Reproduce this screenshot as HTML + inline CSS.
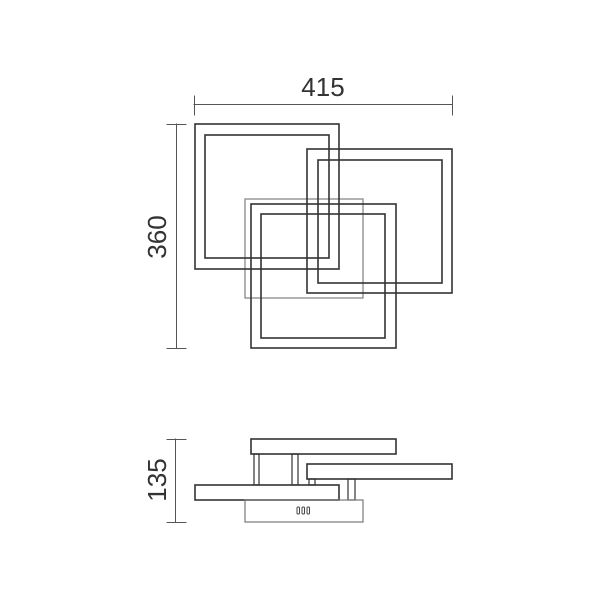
<!DOCTYPE html>
<html><head><style>body{margin:0;background:#fff}svg{display:block}</style></head><body>
<svg width="600" height="600" viewBox="0 0 600 600" xmlns="http://www.w3.org/2000/svg">
<g fill="none" stroke-linecap="square">
<!-- dimension lines -->
<g stroke="#555" stroke-width="1">
<line x1="194" y1="104.5" x2="452" y2="104.5"/>
<line x1="194.5" y1="96" x2="194.5" y2="115"/>
<line x1="452.5" y1="96" x2="452.5" y2="115"/>
<line x1="176.5" y1="124" x2="176.5" y2="348"/>
<line x1="167" y1="124.5" x2="186" y2="124.5"/>
<line x1="167" y1="348.5" x2="186" y2="348.5"/>
<line x1="175.5" y1="439" x2="175.5" y2="522"/>
<line x1="167" y1="439.5" x2="186" y2="439.5"/>
<line x1="167" y1="522.5" x2="186" y2="522.5"/>
</g>
<!-- top view -->
<rect x="245" y="199" width="118" height="99" stroke="#888" stroke-width="1.3"/>
<g stroke="#333" stroke-width="1.6">
<rect x="195" y="124" width="144" height="145"/>
<rect x="205" y="135" width="124" height="123"/>
<rect x="307" y="149" width="145" height="144"/>
<rect x="318" y="160" width="124" height="123"/>
<rect x="251" y="204" width="145" height="144"/>
<rect x="261" y="214" width="124" height="124"/>
</g>
<!-- side view -->
<g stroke="#333" stroke-width="1.6">
<rect x="251" y="439" width="145" height="15"/>
<rect x="307" y="464" width="145" height="15"/>
<rect x="195" y="485" width="144" height="15"/>
<rect x="254" y="454" width="5" height="31" stroke-width="1.2"/>
<rect x="292" y="454" width="6" height="31" stroke-width="1.2"/>
<rect x="309" y="479" width="6" height="6" stroke-width="1.2"/>
<rect x="348" y="479" width="7" height="21" stroke-width="1.2"/>
</g>
<rect x="245" y="500" width="118" height="22" stroke="#777" stroke-width="1.2"/>
<g stroke="#444" stroke-width="1">
<rect x="297" y="507" width="2.5" height="7" rx="1"/>
<rect x="302" y="507" width="2.5" height="7" rx="1"/>
<rect x="307" y="507" width="2.5" height="7" rx="1"/>
</g>
</g>
<g font-family="Liberation Sans, sans-serif" font-size="26" fill="#333" text-anchor="middle">
<text x="323" y="96">415</text>
<text transform="translate(166,237) rotate(-90)">360</text>
<text transform="translate(166,480) rotate(-90)">135</text>
</g>
</svg>
</body></html>
